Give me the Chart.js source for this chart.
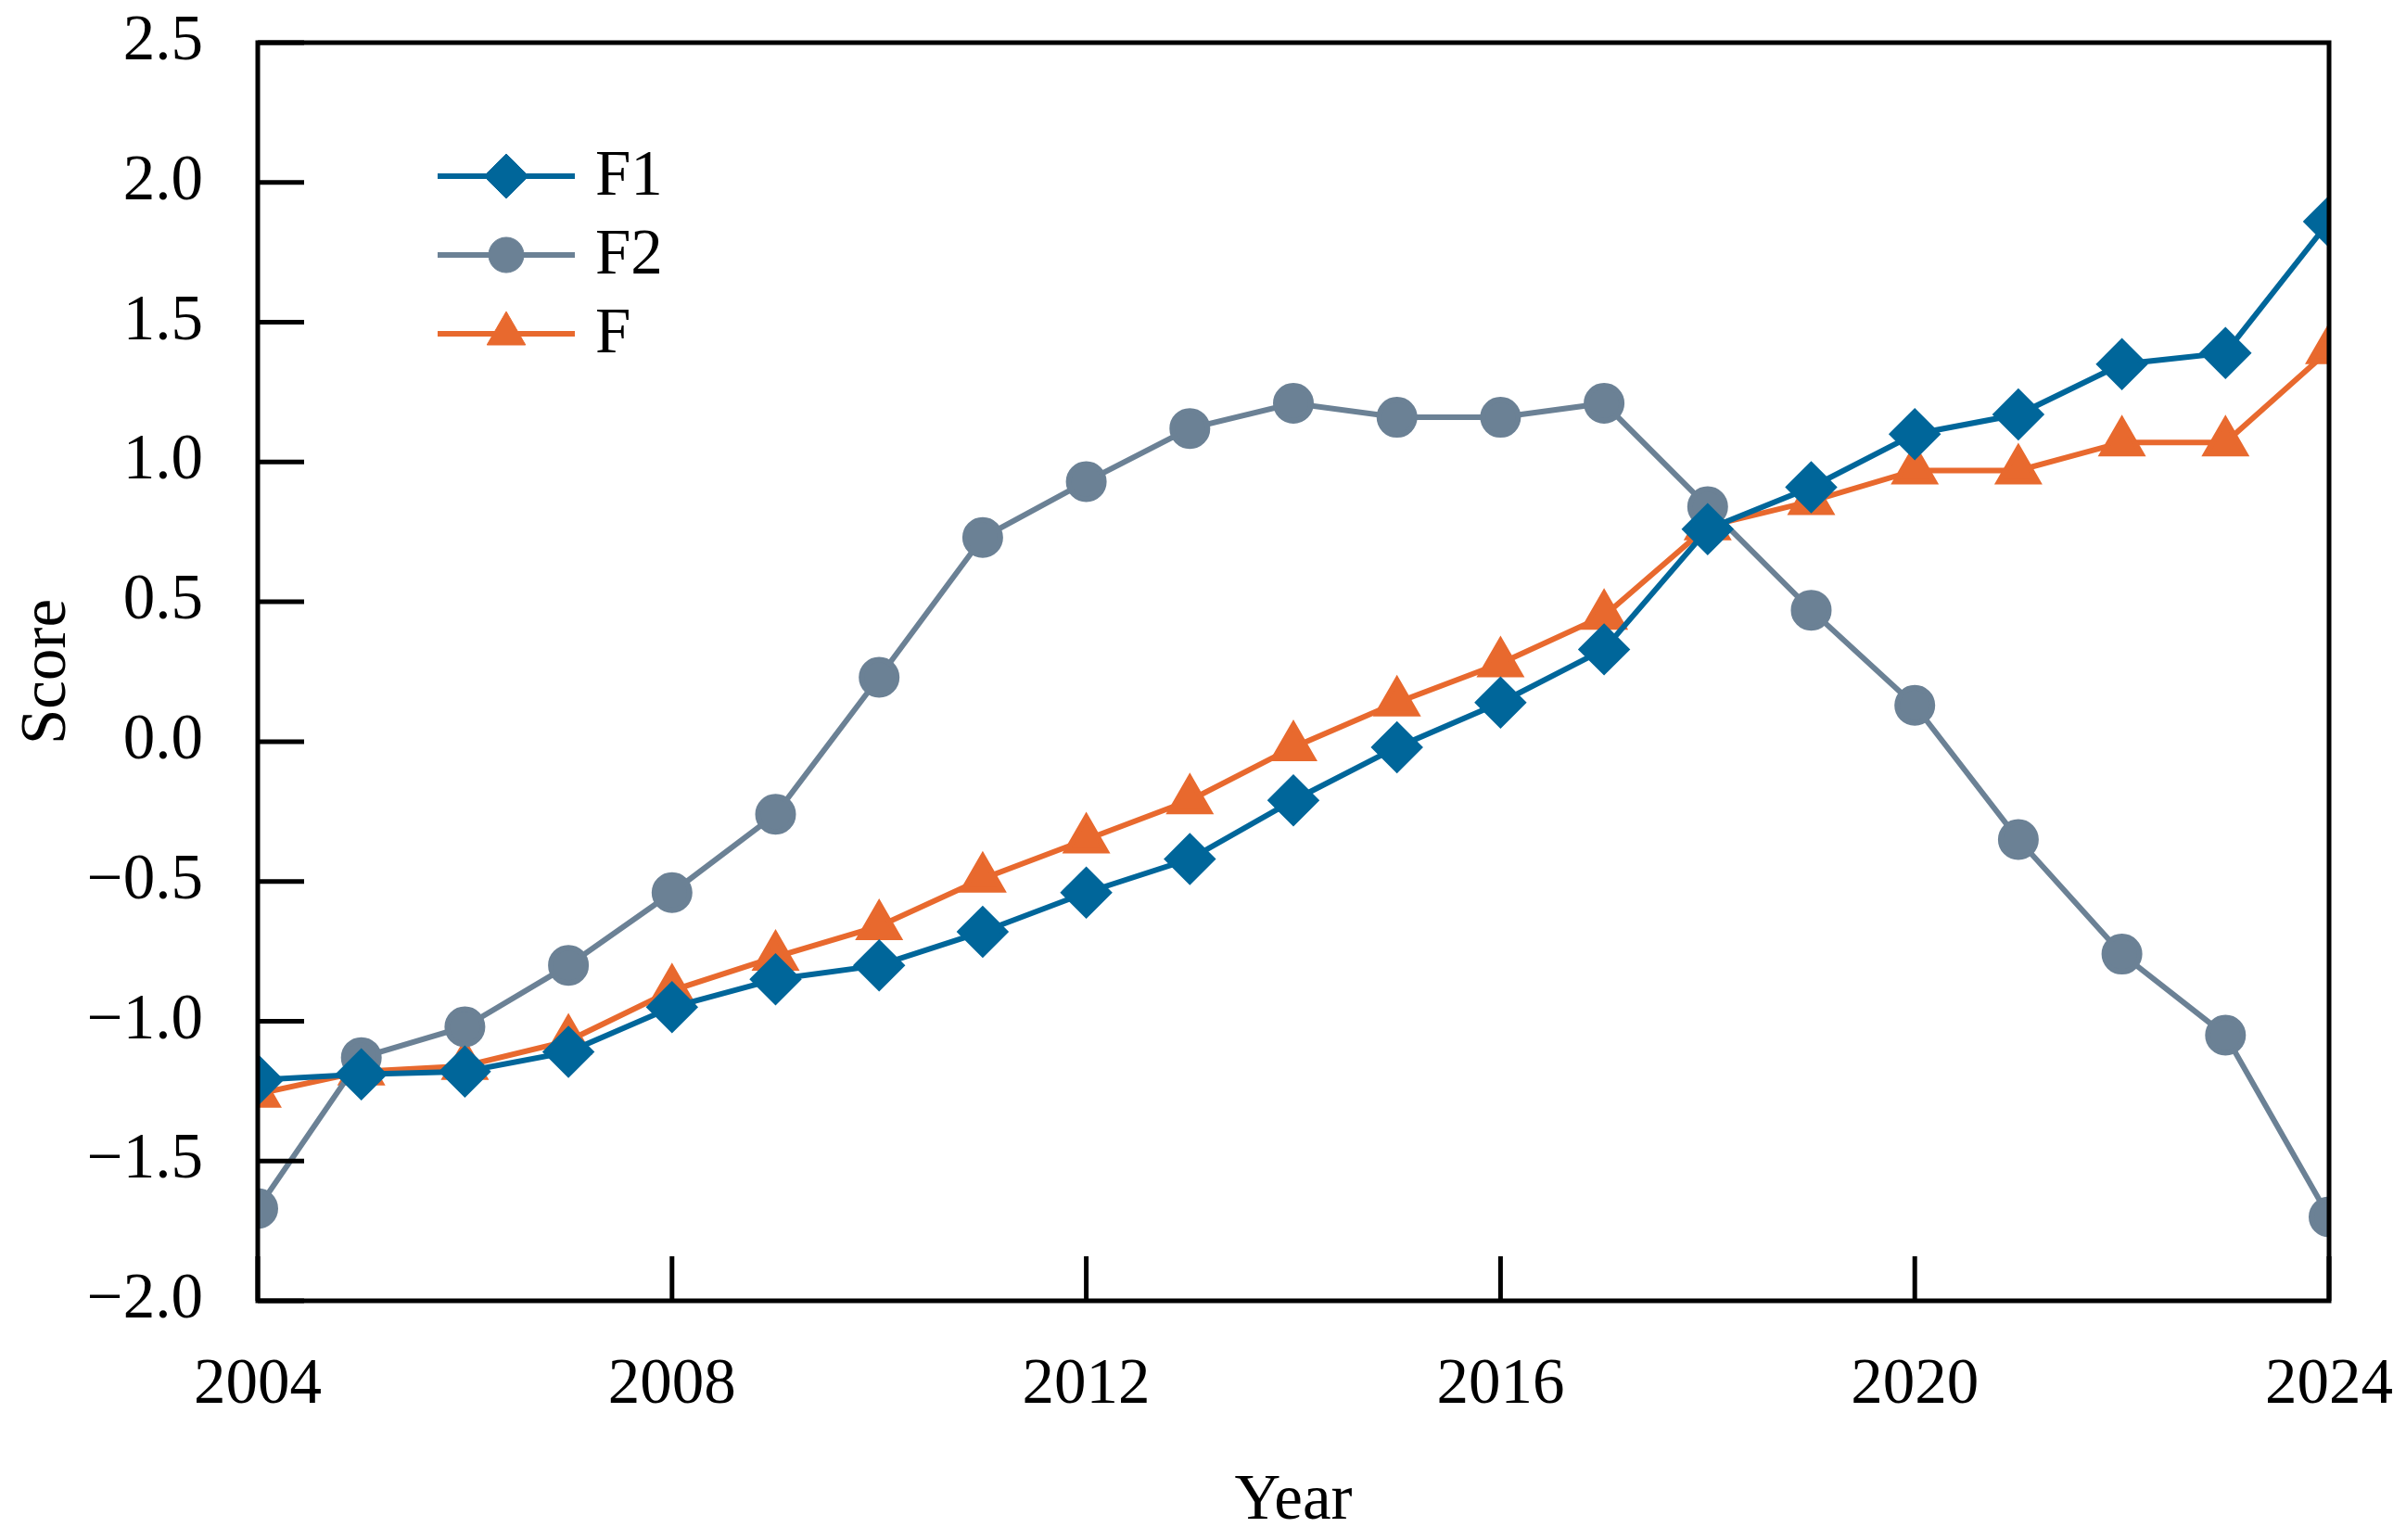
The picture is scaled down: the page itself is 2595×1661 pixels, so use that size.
<!DOCTYPE html>
<html>
<head>
<meta charset="utf-8">
<script src="https://cdn.jsdelivr.net/npm/chart.js@4.4.1/dist/chart.umd.min.js"></script>
<style>
  html, body { margin: 0; padding: 0; background: #fff; }
  #wrap { width: 2595px; height: 1661px; }
</style>
</head>
<body>
<div id="wrap"><canvas id="scoreChart" width="2595" height="1661"></canvas></div>
<script>
const years = [2004, 2005, 2006, 2007, 2008, 2009, 2010, 2011, 2012, 2013, 2014,
  2015, 2016, 2017, 2018, 2019, 2020, 2021, 2022, 2023, 2024];

const f1Scores = [-1.21, -1.19, -1.18, -1.11, -0.95, -0.85, -0.80, -0.68, -0.54, -0.42, -0.21,
  -0.02, 0.14, 0.33, 0.76, 0.91, 1.10, 1.17, 1.35, 1.39, 1.86];
const f2Scores = [-1.67, -1.13, -1.02, -0.80, -0.54, -0.26, 0.23, 0.73, 0.93, 1.12, 1.21,
  1.16, 1.16, 1.21, 0.84, 0.47, 0.13, -0.35, -0.76, -1.05, -1.70];
const fScores = [-1.26, -1.18, -1.16, -1.07, -0.89, -0.77, -0.66, -0.49, -0.35, -0.21, -0.02,
  0.14, 0.28, 0.45, 0.77, 0.86, 0.97, 0.97, 1.07, 1.07, 1.40];

const xTicks = [2004, 2008, 2012, 2016, 2020, 2024];
const yTicks = [-2.0, -1.5, -1.0, -0.5, 0.0, 0.5, 1.0, 1.5, 2.0, 2.5];

const FONT = '"Liberation Serif", "Times New Roman", serif';
const toPoints = (vals) => years.map((yr, i) => ({ x: yr, y: vals[i] }));

// frame + inward ticks
const framePlugin = {
  id: 'frame',
  afterDatasetsDraw(chart) {
    const { ctx, chartArea: a, scales } = chart;
    ctx.save();
    ctx.strokeStyle = '#000';
    ctx.lineWidth = 5;
    ctx.beginPath();
    xTicks.forEach(v => {
      const px = scales.x.getPixelForValue(v);
      ctx.moveTo(px, a.bottom);
      ctx.lineTo(px, a.bottom - 48);
    });
    yTicks.forEach(v => {
      const py = scales.y.getPixelForValue(v);
      ctx.moveTo(a.left, py);
      ctx.lineTo(a.left + 50, py);
    });
    ctx.stroke();
    ctx.strokeRect(a.left, a.top, a.right - a.left, a.bottom - a.top);
    ctx.restore();
  }
};

// legend drawn inside the plot area
const innerLegend = {
  id: 'innerLegend',
  afterDraw(chart) {
    const { ctx, chartArea: a } = chart;
    const x0 = a.left + 194, x1 = a.left + 342;
    ctx.save();
    chart.data.datasets.forEach((ds, i) => {
      const y = a.top + 144 + i * 85;
      ctx.strokeStyle = ds.borderColor;
      ctx.lineWidth = ds.borderWidth;
      ctx.beginPath();
      ctx.moveTo(x0, y);
      ctx.lineTo(x1, y);
      ctx.stroke();
      ctx.fillStyle = ds.backgroundColor;
      ctx.strokeStyle = ds.borderColor;
      ctx.lineWidth = 1;
      Chart.helpers.drawPoint(ctx, {
        pointStyle: ds.pointStyle, radius: ds.pointRadius, rotation: 0, borderWidth: 1
      }, (x0 + x1) / 2, y);
      ctx.fillStyle = '#000';
      ctx.font = '69px ' + FONT;
      ctx.textBaseline = 'middle';
      ctx.textAlign = 'left';
      ctx.fillText(ds.label, x1 + 22, y + 2);
    });
    ctx.restore();
  }
};

new Chart(document.getElementById('scoreChart').getContext('2d'), {
  type: 'line',
  data: {
    datasets: [
      {
        label: 'F1', data: toPoints(f1Scores),
        borderColor: '#00669a', backgroundColor: '#00669a',
        borderWidth: 6, pointStyle: 'rectRot', pointRadius: 24, pointHoverRadius: 24
      },
      {
        label: 'F2', data: toPoints(f2Scores),
        borderColor: '#6b8195', backgroundColor: '#6b8195',
        borderWidth: 6, pointStyle: 'circle', pointRadius: 19, pointHoverRadius: 19
      },
      {
        label: 'F', data: toPoints(fScores),
        borderColor: '#e8692e', backgroundColor: '#e8692e',
        borderWidth: 6, pointStyle: 'triangle', pointRadius: 24, pointHoverRadius: 24
      }
    ]
  },
  options: {
    responsive: false,
    animation: false,
    devicePixelRatio: 1,
    layout: { padding: { top: 46, right: 83, left: 0, bottom: 0 } },
    plugins: {
      legend: { display: false },
      tooltip: { enabled: false }
    },
    scales: {
      x: {
        type: 'linear', min: 2004, max: 2024,
        afterBuildTicks: (s) => { s.ticks = xTicks.map(v => ({ value: v })); },
        afterFit: (s) => { s.height = 258; s.paddingLeft = 0; s.paddingRight = 0; },
        grid: { display: false, drawTicks: false },
        border: { display: false },
        ticks: {
          color: '#000', font: { family: FONT, size: 69 }, padding: 50,
          maxRotation: 0, autoSkip: false, callback: (v) => String(v)
        },
        title: {
          display: true, text: 'Year', color: '#000',
          font: { family: FONT, size: 69 }, padding: { top: 40, bottom: 0 }
        }
      },
      y: {
        min: -2.0, max: 2.5,
        afterBuildTicks: (s) => { s.ticks = yTicks.map(v => ({ value: v })); },
        afterFit: (s) => { s.width = 278; s.paddingTop = 0; s.paddingBottom = 0; },
        grid: { display: false, drawTicks: false },
        border: { display: false },
        ticks: {
          color: '#000', font: { family: FONT, size: 69 }, padding: 59,
          callback: (v) => (v < 0 ? '\u2212' : '') + Math.abs(v).toFixed(1)
        },
        title: {
          display: true, text: 'Score', color: '#000',
          font: { family: FONT, size: 69 }, padding: { top: 10, bottom: 30 }
        }
      }
    }
  },
  plugins: [framePlugin, innerLegend]
});
</script>
</body>
</html>
